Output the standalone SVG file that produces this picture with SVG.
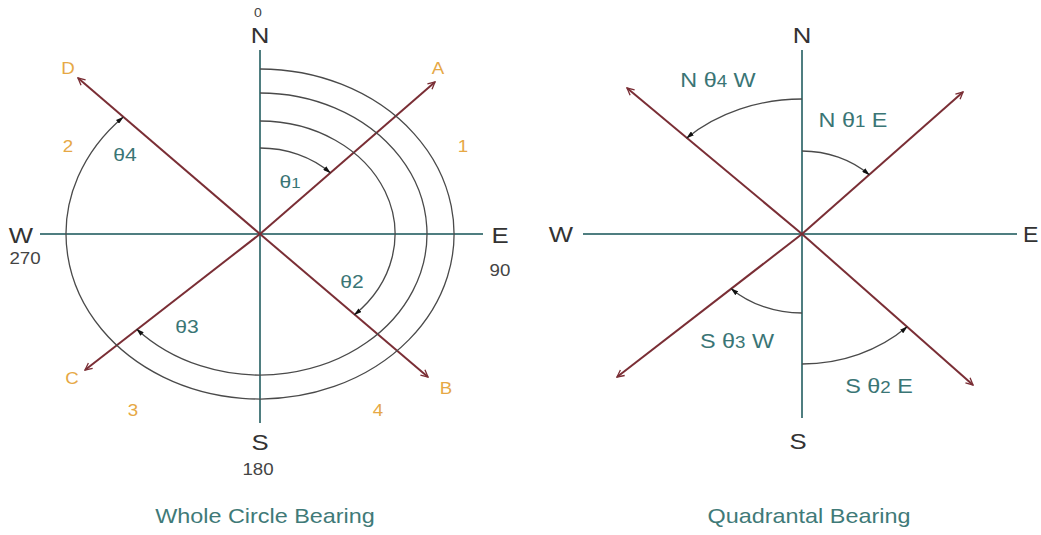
<svg xmlns="http://www.w3.org/2000/svg" width="1041" height="535" viewBox="0 0 1041 535">
<style>
.ax{stroke:#4f7e80;stroke-width:2;fill:none}
.ray{stroke:#7a2e35;stroke-width:2;fill:none;marker-end:url(#ra)}
.arc{stroke:#4a4a4a;stroke-width:1.3;fill:none;marker-end:url(#ah)}
text{font-family:"Liberation Sans",Arial,sans-serif;text-anchor:middle}
.dir{font-size:22px;fill:#333}
.deg{font-size:16px;fill:#444}
.zero{font-size:12px;fill:#444}
.org{font-size:16px;fill:#e6a845}
.th{font-size:18px;fill:#3a7575}
.thq{font-size:20px;fill:#3a7575}
.ttl{font-size:20px;fill:#3f7a78}
.sub{font-size:0.8em}
</style>
<defs>
<marker id="ah" viewBox="0 0 10 6" refX="9" refY="3" markerWidth="8" markerHeight="5" orient="auto" markerUnits="userSpaceOnUse"><path d="M0,0 L10,3 L0,6 z" fill="#111"/></marker>
<marker id="ra" viewBox="-9 -5 10 10" refX="0" refY="0" markerWidth="10" markerHeight="10" orient="auto" markerUnits="userSpaceOnUse"><path d="M-7,-3.5 L0,0 L-7,3.5" fill="none" stroke="#7a2e35" stroke-width="1.3"/></marker>
</defs>
<rect width="1041" height="535" fill="#fff"/>

<g id="whole-circle">
<g id="wcb-axes">
<line class="ax" x1="260" y1="50" x2="260" y2="423"/>
<line class="ax" x1="40" y1="234" x2="483" y2="234"/>
</g>
<g id="wcb-connectors">
<line class="ray" x1="260" y1="234" x2="435" y2="82"/>
<line class="ray" x1="260" y1="234" x2="78" y2="78"/>
<line class="ray" x1="260" y1="234" x2="85" y2="370"/>
<line class="ray" x1="260" y1="234" x2="428" y2="377"/>
<path class="arc" d="M260,148 A100,86 0 0 1 330.2,172.7"/>
<path class="arc" d="M260,121 A135,113 0 0 1 354.4,314.8"/>
<path class="arc" d="M260,93 A167,141 0 1 1 136.8,329.2"/>
<path class="arc" d="M260,69 A194,165 0 1 1 123,117.2"/>
</g>
<g id="wcb-labels">
<text class="zero" transform="matrix(1.17 0 0 1 258 17)">0</text>
<text class="dir" transform="matrix(1.17 0 0 1 260 43)">N</text>
<text class="dir" transform="matrix(1.17 0 0 1 21 243)">W</text>
<text class="deg" transform="matrix(1.17 0 0 1 25 264)">270</text>
<text class="dir" transform="matrix(1.17 0 0 1 500 243)">E</text>
<text class="deg" transform="matrix(1.17 0 0 1 500 276)">90</text>
<text class="dir" transform="matrix(1.17 0 0 1 260 450)">S</text>
<text class="deg" transform="matrix(1.17 0 0 1 258 475)">180</text>
<text class="org" transform="matrix(1.17 0 0 1 68 74)">D</text>
<text class="org" transform="matrix(1.17 0 0 1 438 74)">A</text>
<text class="org" transform="matrix(1.17 0 0 1 72 384)">C</text>
<text class="org" transform="matrix(1.17 0 0 1 446 394)">B</text>
<text class="org" transform="matrix(1.17 0 0 1 463 152)">1</text>
<text class="org" transform="matrix(1.17 0 0 1 68 152)">2</text>
<text class="org" transform="matrix(1.17 0 0 1 133 416)">3</text>
<text class="org" transform="matrix(1.17 0 0 1 378 416)">4</text>
<text class="th" transform="matrix(1.17 0 0 1 290 188)">θ<tspan class="sub">1</tspan></text>
<text class="th" transform="matrix(1.17 0 0 1 125 161)">θ4</text>
<text class="th" transform="matrix(1.17 0 0 1 352 288)">θ2</text>
<text class="th" transform="matrix(1.17 0 0 1 187 333)">θ3</text>
<text class="ttl" transform="matrix(1.17 0 0 1 265 523)">Whole Circle Bearing</text>
</g>
</g>

<g id="quadrantal">
<g id="qb-axes">
<line class="ax" x1="802" y1="50" x2="802" y2="418"/>
<line class="ax" x1="583" y1="234" x2="1017" y2="234"/>
</g>
<g id="qb-connectors">
<line class="ray" x1="802" y1="234" x2="627" y2="88"/>
<line class="ray" x1="802" y1="234" x2="963" y2="92"/>
<line class="ray" x1="802" y1="234" x2="617" y2="377"/>
<line class="ray" x1="802" y1="234" x2="973" y2="385"/>
<path class="arc" d="M802,99 A164,135 0 0 0 686.8,137.9"/>
<path class="arc" d="M802,151 A96,83 0 0 1 869.2,174.7"/>
<path class="arc" d="M802,313 A98,79 0 0 1 731.3,288.7"/>
<path class="arc" d="M802,364 A150,130 0 0 0 907.1,326.8"/>
</g>
<g id="qb-labels">
<text class="dir" transform="matrix(1.17 0 0 1 802 43)">N</text>
<text class="dir" transform="matrix(1.17 0 0 1 798 449)">S</text>
<text class="dir" transform="matrix(1.17 0 0 1 561 242)">W</text>
<text class="dir" style="text-anchor:start" transform="matrix(1.05 0 0 1 1023 242)">E</text>
<text class="thq" transform="matrix(1.17 0 0 1 718 87)">N θ<tspan class="sub">4</tspan> W</text>
<text class="thq" transform="matrix(1.17 0 0 1 853 127)">N θ<tspan class="sub">1</tspan> E</text>
<text class="thq" transform="matrix(1.17 0 0 1 737 348)">S θ<tspan class="sub">3</tspan> W</text>
<text class="thq" transform="matrix(1.17 0 0 1 879 393)">S θ<tspan class="sub">2</tspan> E</text>
<text class="ttl" transform="matrix(1.17 0 0 1 809 523)">Quadrantal Bearing</text>
</g>
</g>
</svg>
